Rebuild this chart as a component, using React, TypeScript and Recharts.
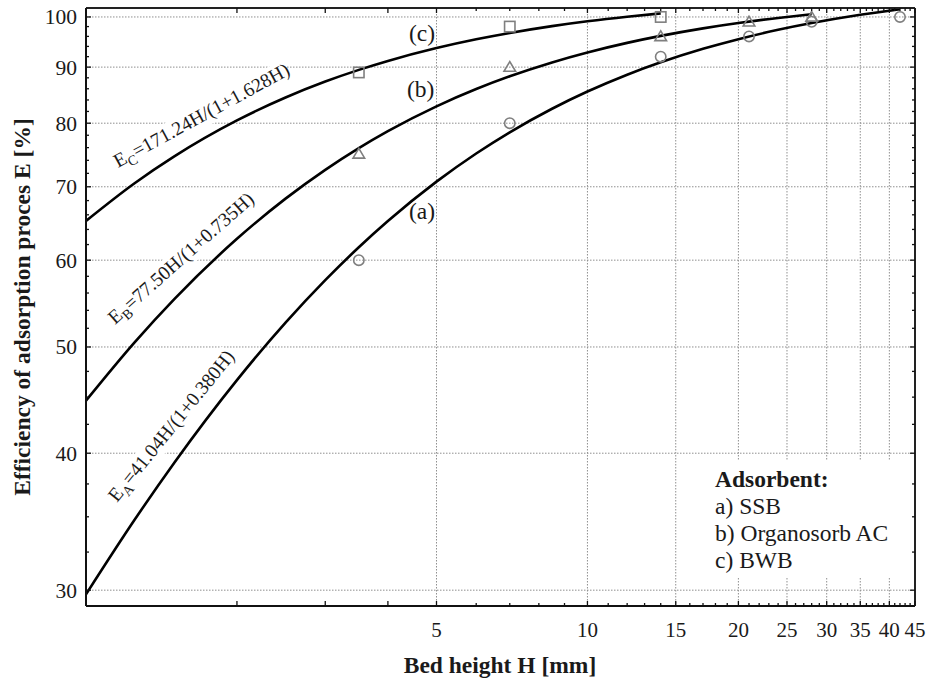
import React from "react";
import { CartesianGrid, ComposedChart, Line, Scatter, XAxis, YAxis } from "recharts";

// model curves (E vs H)
const curveH = [1, 1.25, 1.5, 2, 2.5, 3, 3.5, 4, 5, 6, 7, 8.5, 10, 12, 14, 17, 20, 24, 28, 35, 42];
const curveA = [29.74, 34.78, 39.21, 46.64, 52.62, 57.53, 61.65, 65.14, 70.76, 75.07, 78.49, 82.47, 85.5, 88.58, 90.91, 93.52, 95.44, 97.33, 98.72, 100.45, 101.63];
const curveB = [44.67, 50.49, 55.29, 62.75, 68.28, 72.54, 75.93, 78.68, 82.89, 85.95, 88.28, 90.89, 92.81, 94.7, 96.1, 97.63, 98.73, 99.79, 100.56];
const curveC = [65.16, 70.53, 74.62, 80.47, 84.44, 87.31, 89.48, 91.18, 93.68, 95.42, 96.7, 98.1, 99.1, 100.06, 100.76];

// measured points
const pointH = [3.5, 7, 14, 21, 28, 42];
const ssb = [60, 80, 92, 96, 99, 100];
const organosorb = [75, 90, 96, 99, 100];
const bwb = [89, 98, 100];

const xMajor = [5, 10, 15, 20, 25, 30, 35, 40, 45];
const xMinor = [2, 3, 4, 6, 7, 8, 9, 11, 12, 13, 14, 16, 17, 18, 19, 21, 22, 23, 24, 26, 27, 28, 29, 31, 32, 33, 34, 36, 37, 38, 39, 41, 42, 43, 44];
const xGrid = [5, 10, 15, 20, 25, 30, 35, 40];
const yMajor = [30, 40, 50, 60, 70, 80, 90, 100];
const yMinor = [32.5, 35, 37.5, 42.5, 45, 47.5, 52, 54, 56, 58, 62, 64, 66, 68, 72, 74, 76, 78, 82, 84, 86, 88, 92, 94, 96, 98];

const legendTitle = "Adsorbent:";
const legendItems = ["a) SSB", "b) Organosorb AC", "c) BWB"];

const FONT = '"Liberation Serif", "Times New Roman", serif';
const MARK = "#7f7f7f";

const toRows = (xs: number[], ys: number[]) => ys.map((e, i) => ({ h: xs[i], e }));

const dataA = toRows(curveH, curveA);
const dataB = toRows(curveH, curveB);
const dataC = toRows(curveH, curveC);
const ptsA = toRows(pointH, ssb);
const ptsB = toRows(pointH, organosorb);
const ptsC = toRows(pointH, bwb);

const xTicks = [...xMinor, ...xMajor].sort((a, b) => a - b);
const yTicks = [...yMinor, ...yMajor].sort((a, b) => a - b);

function BottomTick(props: any) {
  const { x, y, payload } = props;
  const major = xMajor.includes(payload.value) || payload.value < 5;
  const len = major ? 5 : 3;
  return (
    <g>
      <line x1={x} y1={y} x2={x} y2={y - len} stroke="#111" strokeWidth={1.3} />
      {xMajor.includes(payload.value) && (
        <text x={x} y={y + 31} textAnchor="middle" fontSize={21} fontFamily={FONT} fill="#1a1a1a">
          {payload.value}
        </text>
      )}
    </g>
  );
}

function TopTick(props: any) {
  const { x, y, payload } = props;
  const major = xMajor.includes(payload.value) || payload.value < 5;
  const len = major ? 5 : 3;
  return <line x1={x} y1={y} x2={x} y2={y + len} stroke="#111" strokeWidth={1.3} />;
}

function LeftTick(props: any) {
  const { x, y, payload } = props;
  const major = yMajor.includes(payload.value);
  return (
    <g>
      <line x1={x} y1={y} x2={x + (major ? 5 : 3)} y2={y} stroke="#111" strokeWidth={1.3} />
      {major && (
        <text x={x - 9} y={y + 7.5} textAnchor="end" fontSize={21.5} fontFamily={FONT} fill="#1a1a1a">
          {payload.value}
        </text>
      )}
    </g>
  );
}

function RightTick(props: any) {
  const { x, y, payload } = props;
  const major = yMajor.includes(payload.value);
  return <line x1={x} y1={y} x2={x - (major ? 5 : 3)} y2={y} stroke="#111" strokeWidth={1.3} />;
}

const circleShape = (p: any) => <circle cx={p.cx} cy={p.cy} r={5.2} fill="none" stroke={MARK} strokeWidth={1.6} />;
const triangleShape = (p: any) => (
  <polygon
    points={`${p.cx},${p.cy - 5.5} ${p.cx - 5.8},${p.cy + 4.2} ${p.cx + 5.8},${p.cy + 4.2}`}
    fill="none"
    stroke={MARK}
    strokeWidth={1.6}
  />
);
const squareShape = (p: any) => (
  <rect x={p.cx - 5.2} y={p.cy - 5.2} width={10.4} height={10.4} fill="none" stroke={MARK} strokeWidth={1.6} />
);

function Equation({ x, y, angle, sub, rest, w }: { x: number; y: number; angle: number; sub: string; rest: string; w: number }) {
  return (
    <g transform={`rotate(${angle} ${x} ${y})`}>
      <rect x={x - 4} y={y - 17} width={w} height={23} fill="#fff" />
      <text x={x} y={y} fontSize={19.5} fontFamily={FONT} fill="#1a1a1a">
        E
        <tspan fontSize={14} dy={5}>
          {sub}
        </tspan>
        <tspan dy={-5}>{rest}</tspan>
      </text>
    </g>
  );
}

export default function App() {
  return (
    <div style={{ position: "absolute", left: 0, top: 0, width: 928, height: 682, background: "#fff" }}>
      <ComposedChart width={928} height={682} margin={{ top: 0, right: 0, bottom: 0, left: 0 }}>
        <CartesianGrid
          horizontalValues={yMajor}
          verticalValues={xGrid}
          stroke="#8f8f8f"
          strokeDasharray="1.5 1.5"
          strokeWidth={1}
        />
        <XAxis
          dataKey="h"
          type="number"
          scale="log"
          domain={[1, 45]}
          allowDataOverflow
          ticks={xTicks}
          interval={0}
          height={76}
          tickSize={0}
          tickMargin={0}
          tickLine={false}
          tick={<BottomTick />}
          axisLine={{ stroke: "#111", strokeWidth: 2 }}
        />
        <XAxis
          xAxisId="top"
          orientation="top"
          dataKey="h"
          type="number"
          scale="log"
          domain={[1, 45]}
          allowDataOverflow
          ticks={xTicks}
          interval={0}
          height={8}
          tickSize={0}
          tickMargin={0}
          tickLine={false}
          tick={<TopTick />}
          axisLine={{ stroke: "#222", strokeWidth: 2 }}
        />
        <YAxis
          dataKey="e"
          type="number"
          scale="log"
          domain={[29.02, 101.9]}
          allowDataOverflow
          ticks={yTicks}
          interval={0}
          width={86}
          tickSize={0}
          tickMargin={0}
          tickLine={false}
          tick={<LeftTick />}
          axisLine={{ stroke: "#111", strokeWidth: 2 }}
        />
        <YAxis
          yAxisId="right"
          orientation="right"
          dataKey="e"
          type="number"
          scale="log"
          domain={[29.02, 101.9]}
          allowDataOverflow
          ticks={yTicks}
          interval={0}
          width={13}
          tickSize={0}
          tickMargin={0}
          tickLine={false}
          tick={<RightTick />}
          axisLine={{ stroke: "#222", strokeWidth: 2 }}
        />
        <Line data={dataA} dataKey="e" type="monotone" stroke="#000" strokeWidth={2.6} dot={false} isAnimationActive={false} />
        <Line data={dataB} dataKey="e" type="monotone" stroke="#000" strokeWidth={2.6} dot={false} isAnimationActive={false} />
        <Line data={dataC} dataKey="e" type="monotone" stroke="#000" strokeWidth={2.6} dot={false} isAnimationActive={false} />
        <Scatter data={ptsA} dataKey="e" shape={circleShape} isAnimationActive={false} />
        <Scatter data={ptsB} dataKey="e" shape={triangleShape} isAnimationActive={false} />
        <Scatter data={ptsC} dataKey="e" shape={squareShape} isAnimationActive={false} />
      </ComposedChart>

      <svg width={928} height={682} style={{ position: "absolute", left: 0, top: 0, pointerEvents: "none" }}>
        <Equation x={118} y={168} angle={-28.5} sub="C" rest="=171.24H/(1+1.628H)" w={200} />
        <Equation x={115} y={325} angle={-41.5} sub="B" rest="=77.50H/(1+0.735H)" w={192} />
        <Equation x={117} y={503} angle={-51} sub="A" rest="=41.04H/(1+0.380H)" w={192} />

        <text x={409} y={41} fontSize={23.5} fontFamily={FONT} fill="#1a1a1a">(c)</text>
        <text x={407} y={97} fontSize={23.5} fontFamily={FONT} fill="#1a1a1a">(b)</text>
        <text x={409} y={219} fontSize={23.5} fontFamily={FONT} fill="#1a1a1a">(a)</text>

        <rect x={706} y={461} width={202} height={117} fill="#fff" />
        <text x={715} y={487} fontSize={23.5} fontWeight="bold" fontFamily={FONT} fill="#1a1a1a">
          {legendTitle}
        </text>
        {legendItems.map((t, i) => (
          <text key={t} x={715} y={514 + i * 27} fontSize={23.5} fontFamily={FONT} fill="#1a1a1a">
            {t}
          </text>
        ))}

        <text
          x={30}
          y={307}
          transform="rotate(-90 30 307)"
          textAnchor="middle"
          fontSize={23.5}
          fontWeight="bold"
          fontFamily={FONT}
          fill="#1a1a1a"
        >
          Efficiency of adsorption proces E [%]
        </text>
        <text x={500} y={673} textAnchor="middle" fontSize={23.5} fontWeight="bold" fontFamily={FONT} fill="#1a1a1a">
          Bed height H [mm]
        </text>
      </svg>
    </div>
  );
}
